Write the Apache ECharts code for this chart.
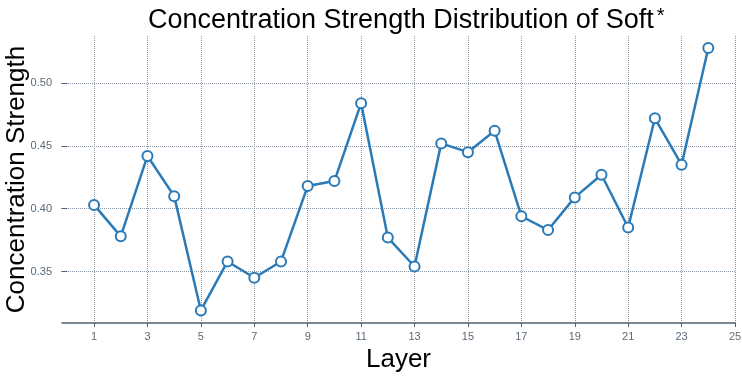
<!DOCTYPE html>
<html>
<head>
<meta charset="utf-8">
<script src="https://cdn.jsdelivr.net/npm/echarts@6/dist/echarts.min.js"></script>
<style>
  html, body { margin: 0; padding: 0; background: #fff; }
  #chart { width: 742px; height: 376px; }
</style>
</head>
<body>
<div id="chart"></div>
<script>
// layer index and strength
const layers = [1, 2, 3, 4, 5, 6, 7, 8, 9, 10, 11, 12, 13, 14, 15, 16, 17, 18, 19, 20, 21, 22, 23, 24]
const strength = [0.403, 0.378, 0.442, 0.410, 0.319, 0.358, 0.345, 0.358, 0.418, 0.422, 0.484, 0.377,
  0.354, 0.452, 0.445, 0.462, 0.394, 0.383, 0.409, 0.427, 0.385, 0.472, 0.435, 0.528]
const xTicks = [1, 3, 5, 7, 9, 11, 13, 15, 17, 19, 21, 23, 25]
const yTicks = [0.35, 0.40, 0.45, 0.50]

const gridColor = '#8896a4'
const axisColor = '#4f5f6f'

const chart = echarts.init(document.getElementById('chart'), null, { renderer: 'canvas' })
chart.setOption({
  animation: false,
  title: {
    text: 'Concentration Strength Distribution of Soft{s|*}',
    left: 143,
    top: 1,
    textStyle: {
      fontFamily: 'Liberation Sans',
      fontWeight: 'normal',
      fontSize: 27,
      color: '#000',
      rich: {
        s: { fontFamily: 'Liberation Sans', fontSize: 20, color: '#000', verticalAlign: 'top', padding: [0, 0, 10, 3] }
      }
    }
  },
  grid: { left: 62, right: 7, top: 36, bottom: 53, outerBoundsMode: 'none' },
  xAxis: {
    type: 'value',
    min: -0.2,
    max: 25,
    name: 'Layer',
    nameLocation: 'middle',
    nameGap: 21,
    nameTextStyle: { fontFamily: 'Liberation Sans', fontSize: 26, color: '#000' },
    axisLine: { lineStyle: { color: axisColor, width: 1.5 } },
    axisTick: { customValues: xTicks, length: 4, lineStyle: { color: axisColor } },
    axisLabel: { customValues: xTicks, fontSize: 11, color: '#5a6a7a', margin: 8, fontFamily: 'Liberation Sans' },
    splitLine: { show: true, lineStyle: { color: gridColor, type: [1, 1], width: 1 } }
  },
  yAxis: {
    type: 'value',
    min: 0.309,
    max: 0.5375,
    name: 'Concentration Strength',
    nameLocation: 'middle',
    nameGap: 32,
    nameMoveOverlap: false,
    nameTextStyle: { fontFamily: 'Liberation Sans', fontSize: 26, color: '#000' },
    axisLine: { show: false },
    axisTick: { show: true, customValues: yTicks, length: 6, lineStyle: { color: axisColor } },
    axisLabel: {
      customValues: yTicks, fontSize: 11, color: '#5a6a7a', margin: 10, fontFamily: 'Liberation Sans',
      formatter: v => v.toFixed(2)
    },
    splitLine: { show: true, lineStyle: { color: gridColor, type: [1, 1], width: 1 } }
  },
  series: [{
    type: 'line',
    data: layers.map((l, i) => [l, strength[i]]),
    symbol: 'circle',
    symbolSize: 10,
    lineStyle: { color: '#2a7ab8', width: 2.5 },
    itemStyle: { color: '#fff', borderColor: '#2a7ab8', borderWidth: 2 }
  }]
})
</script>
</body>
</html>
